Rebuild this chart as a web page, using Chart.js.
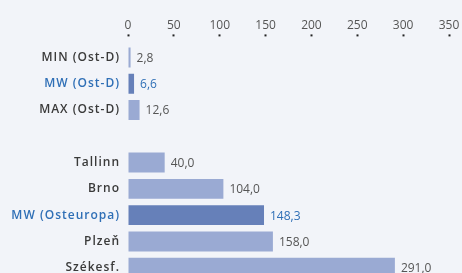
<!DOCTYPE html>
<html>
<head>
<meta charset="utf-8">
<script src="https://cdn.jsdelivr.net/npm/chart.js@4.4.1/dist/chart.umd.min.js"></script>
<style>
  html, body { margin: 0; padding: 0; background: #f2f4f9; overflow: hidden; }
  canvas { display: block; }
</style>
</head>
<body>
<canvas id="grafico" width="462" height="296"></canvas>
<script>
// Datos del gráfico
const categorias = ['MIN (Ost-D)', 'MW (Ost-D)', 'MAX (Ost-D)', '', 'Tallinn', 'Brno', 'MW (Osteuropa)', 'Plzeň', 'Székesf.'];
const valores    = [2.8, 6.6, 12.6, null, 40.0, 104.0, 148.3, 158.0, 291.0];
const destacados = [false, true, false, false, false, false, true, false, false];
const xMax  = 350;
const xPaso = 50;

const colorBarra     = '#9aaad3';
const colorDestacado = '#6680b9';
const colorTexto     = '#3a3a3a';
const colorAzul      = '#2f6fb6';

// Espaciado de letras para las etiquetas de categoría
const espaciado = {
  id: 'espaciado',
  beforeDraw(chart) { chart.ctx.letterSpacing = '1px'; },
  beforeDatasetsDraw(chart) { chart.ctx.letterSpacing = '0px'; }
};

// Etiquetas de valores junto a cada barra
const etiquetasValor = {
  id: 'etiquetasValor',
  afterDatasetsDraw(chart) {
    const ctx = chart.ctx;
    const meta = chart.getDatasetMeta(0);
    ctx.save();
    ctx.letterSpacing = '0px';
    ctx.font = '400 12px "Open Sans", sans-serif';
    ctx.textBaseline = 'middle';
    ctx.textAlign = 'left';
    meta.data.forEach((bar, i) => {
      const v = valores[i];
      if (v === null || v === undefined) return;
      ctx.fillStyle = destacados[i] ? colorAzul : '#555555';
      ctx.fillText(v.toFixed(1).replace('.', ','), bar.x + 6, bar.y + 1);
    });
    ctx.restore();
  }
};

new Chart(document.getElementById('grafico').getContext('2d'), {
  type: 'bar',
  data: {
    labels: categorias,
    datasets: [{
      data: valores,
      backgroundColor: destacados.map(d => d ? colorDestacado : colorBarra),
      barPercentage: 0.76,
      categoryPercentage: 1
    }]
  },
  options: {
    indexAxis: 'y',
    responsive: false,
    animation: false,
    layout: { padding: { top: 16, right: 13, bottom: 4, left: 0 } },
    plugins: { legend: { display: false }, tooltip: { enabled: false } },
    scales: {
      x: {
        position: 'top',
        min: 0,
        max: xMax,
        ticks: {
          z: 1,
          stepSize: xPaso,
          color: '#555555',
          padding: 2,
          font: { family: '"Open Sans", sans-serif', size: 12 }
        },
        grid: {
          drawOnChartArea: false,
          tickLength: 10,
          tickWidth: 2,
          tickColor: '#222222',
          tickBorderDash: [2, 20]
        },
        border: { display: false }
      },
      y: {
        afterFit(scale) { scale.width = 128; },
        ticks: {
          padding: 8,
          color: ctx => destacados[ctx.index] ? colorAzul : colorTexto,
          font: { family: '"Open Sans", sans-serif', size: 12, weight: '600' }
        },
        grid: { display: false, drawTicks: false },
        border: { display: false }
      }
    }
  },
  plugins: [espaciado, etiquetasValor]
});
</script>
</body>
</html>
